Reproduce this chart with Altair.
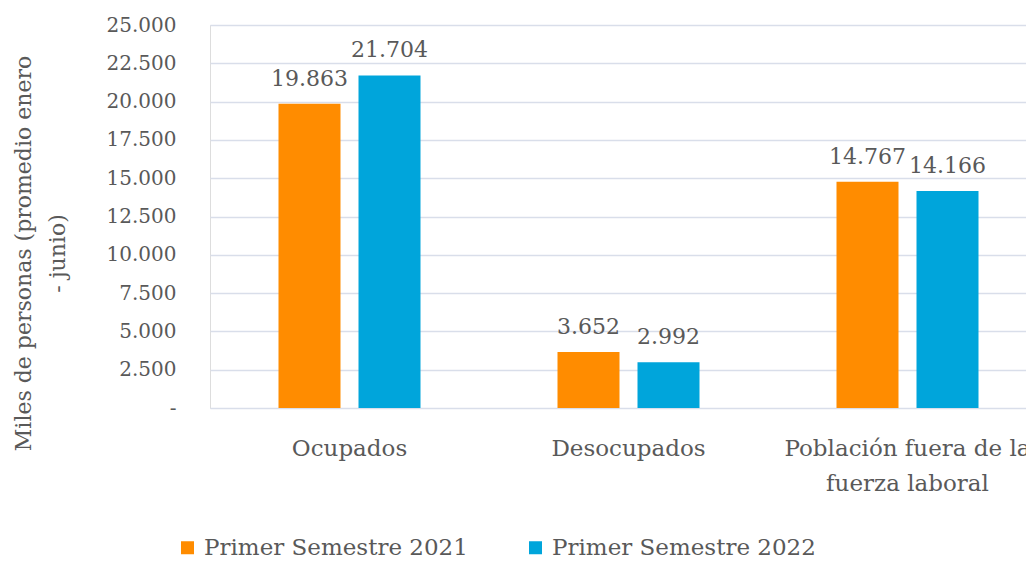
import altair as alt
import pandas as pd

categorias = ["Ocupados", "Desocupados", "Población fuera de la fuerza laboral"]
series = ["Primer Semestre 2021", "Primer Semestre 2022"]
valores_2021 = [19863, 3652, 14767]
valores_2022 = [21704, 2992, 14166]
colores = ["#FF8C00", "#00A5DB"]
y_ticks = [0, 2500, 5000, 7500, 10000, 12500, 15000, 17500, 20000, 22500, 25000]
y_titulo = ["Miles de personas (promedio enero", "- junio)"]

rows = []
for c, a, b in zip(categorias, valores_2021, valores_2022):
    rows.append({"categoria": c, "serie": series[0], "valor": a})
    rows.append({"categoria": c, "serie": series[1], "valor": b})
df = pd.DataFrame(rows)

FONT = "DejaVu Serif"
TXT = "#595959"

x_enc = alt.X(
    "categoria:N",
    sort=categorias,
    scale=alt.Scale(domain=categorias, range=[0, 837], paddingInner=0.491, paddingOuter=0.2455),
    axis=alt.Axis(
        title=None, domain=False, ticks=False, grid=False, labelAngle=0,
        labelFontSize=23, labelColor=TXT, labelFont=FONT, labelBaseline="alphabetic",
        labelPadding=47, labelLineHeight=35, labelLimit=500, labelOverlap=False,
        labelExpr="datum.label == 'Población fuera de la fuerza laboral' ? ['Población fuera de la', 'fuerza laboral'] : datum.label",
    ),
)
xo_enc = alt.XOffset("serie:N", sort=series, scale=alt.Scale(domain=series, paddingInner=0.225, paddingOuter=0))

y_enc = alt.Y(
    "valor:Q",
    scale=alt.Scale(domain=[0, 25000], nice=False),
    axis=alt.Axis(
        values=y_ticks, domain=False, ticks=False, grid=True, gridColor="#D9DEEA", gridWidth=1.5,
        labelFontSize=20, labelColor=TXT, labelFont=FONT, labelPadding=34, labelOverlap=False,
        labelExpr="datum.value == 0 ? '-' : replace(format(datum.value, ',.0f'), ',', '.')",
        title=y_titulo, titleFontSize=22, titleFont=FONT, titleColor=TXT, titleFontWeight="normal",
        titleAngle=-90, titleAlign="center", titleBaseline="alphabetic", titleLineHeight=34,
        titleX=-180, titleY=228, titleLimit=700,
    ),
)

base = alt.Chart(df)

bars = base.mark_bar().encode(
    x=x_enc,
    xOffset=xo_enc,
    y=y_enc,
    color=alt.Color(
        "serie:N",
        sort=series,
        scale=alt.Scale(domain=series, range=colores),
        legend=alt.Legend(
            title=None, orient="none", direction="horizontal", legendX=-34, legendY=511,
            labelFontSize=23, labelColor=TXT, labelFont=FONT, symbolType="square",
            symbolSize=169, symbolStrokeWidth=0, labelOffset=5, columnPadding=56, labelLimit=500,
        ),
    ),
)

labels = base.mark_text(
    fontSize=22, font=FONT, color=TXT, baseline="alphabetic", dy=-18
).transform_calculate(
    etiqueta="replace(format(datum.valor, ',.0f'), ',', '.')"
).encode(
    x=x_enc,
    xOffset=xo_enc,
    y=y_enc,
    text="etiqueta:N",
)

chart = (
    alt.layer(bars, labels)
    .properties(
        width=816,
        height=383,
        autosize=alt.AutoSizeParams(type="none"),
        padding={"left": 202, "top": 17, "right": 0, "bottom": 151},
    )
    .configure_view(stroke=None)
    .configure(background="white")
)

chart.save("out.html", embed_options={"renderer": "svg", "actions": False})
